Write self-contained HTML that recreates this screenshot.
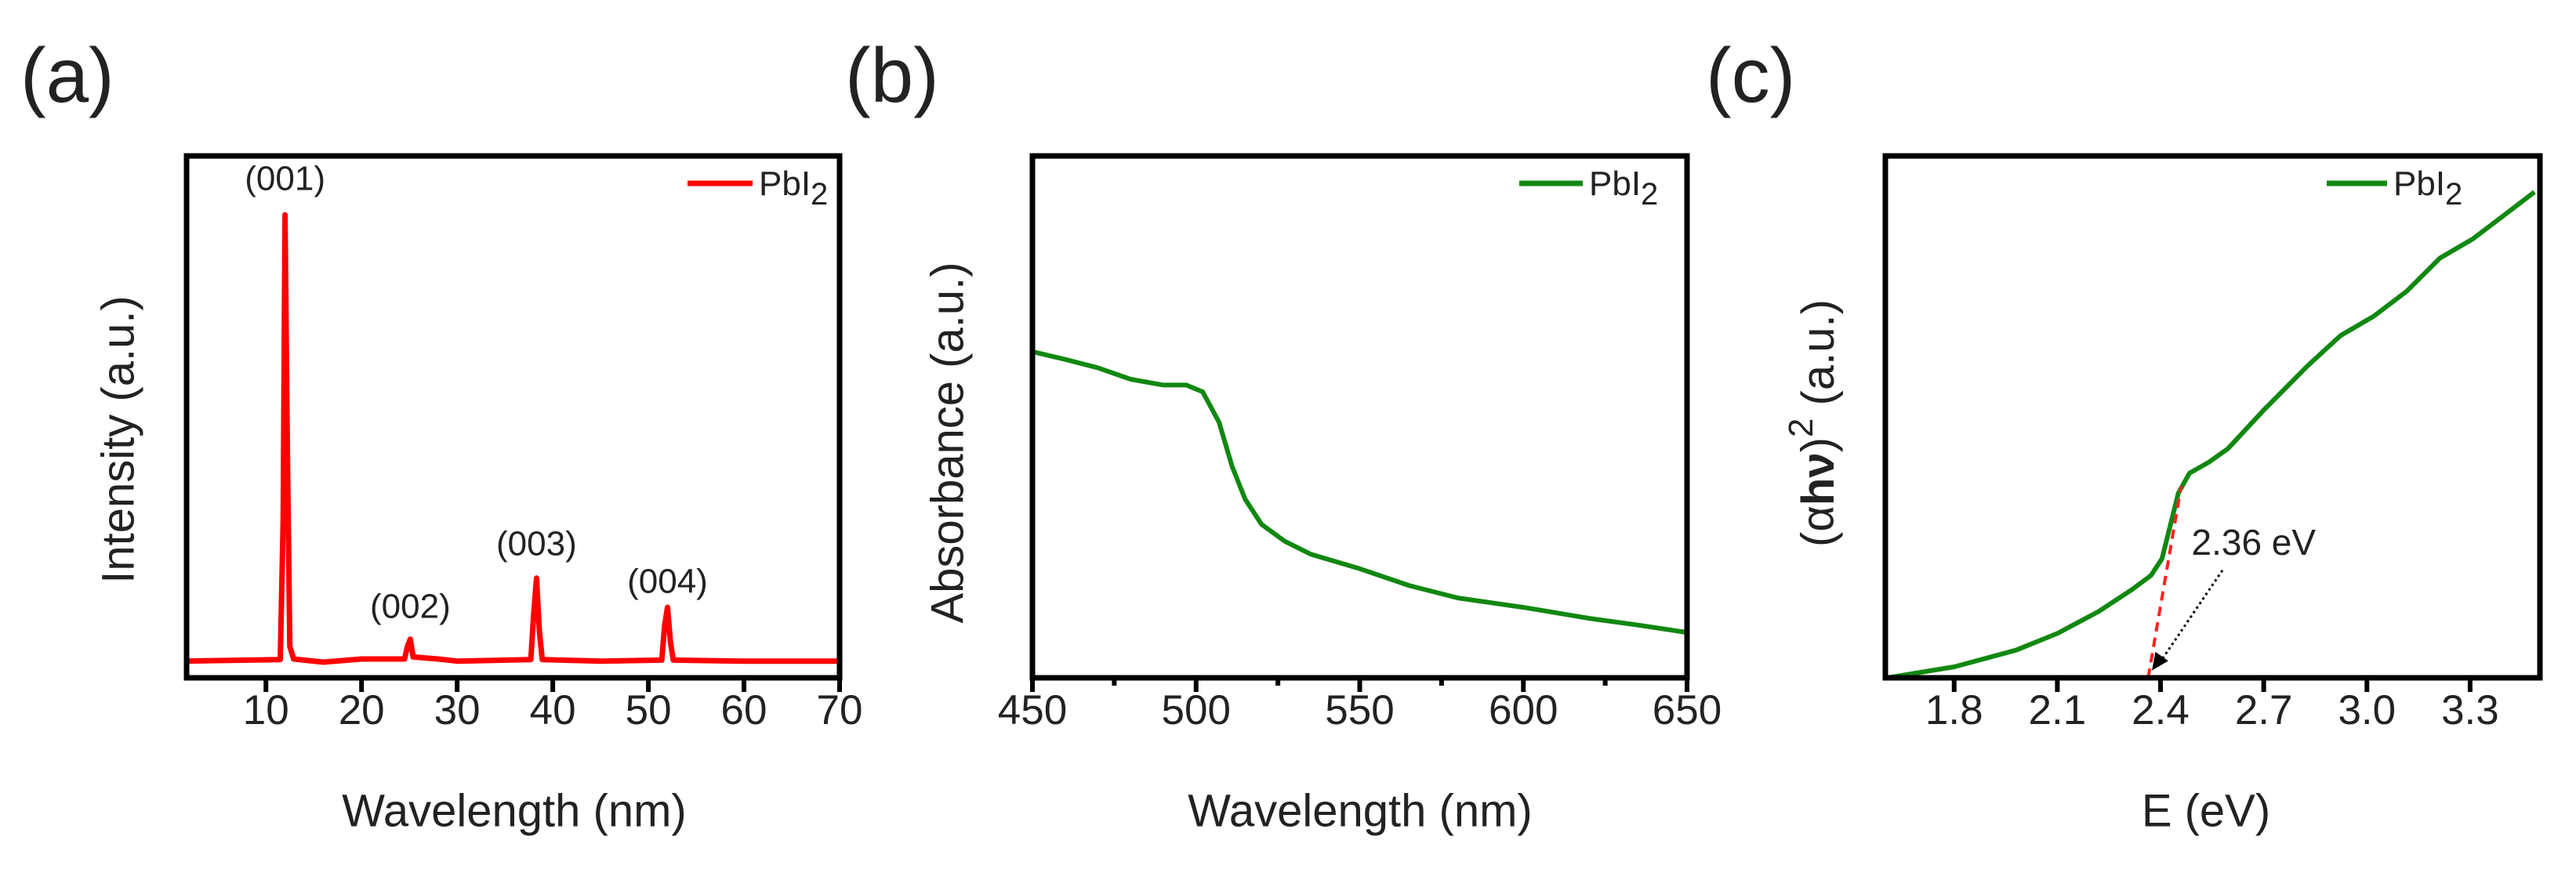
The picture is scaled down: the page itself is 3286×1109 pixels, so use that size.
<!DOCTYPE html>
<html><head><meta charset="utf-8"><style>
html,body{margin:0;padding:0;background:#fff;}
svg{display:block;font-family:"Liberation Sans",Arial,sans-serif;}
</style></head><body>
<svg id="fig" width="3286" height="1109" viewBox="0 0 3286 1109" xmlns="http://www.w3.org/2000/svg">
<rect width="3286" height="1109" fill="#fff"/>
<g id="pa"></g>
<g id="pb"></g>
<g id="pc"></g>
</svg>
<script>
// ---- Panel a data (XRD) ----
const xrdX = [1.7,11.5,11.8,12.0,12.2,12.5,12.9,16,20,24.5,24.8,25.1,25.4,28,30,37.7,38.0,38.3,38.6,38.9,45,51.4,51.7,52.0,52.3,52.6,60,70];
const xrdY = [0.032,0.035,0.3,0.887,0.5,0.06,0.036,0.03,0.036,0.036,0.06,0.074,0.04,0.036,0.032,0.035,0.12,0.191,0.09,0.035,0.032,0.034,0.1,0.135,0.07,0.034,0.032,0.032];
const xrdTicks = [10,20,30,40,50,60,70];
const peakLabels = ["(001)","(002)","(003)","(004)"];
const peakLabelX = [12.0,25.1,38.3,52.0];
const peakLabelY = [0.935,0.115,0.235,0.163];
// ---- Panel b data (absorbance) ----
const absX = [450,460,470,480,490,497,502,507,511,515,520,527,535,550,565,580,600,620,635,650];
const absY = [0.625,0.61,0.594,0.572,0.561,0.561,0.548,0.49,0.405,0.342,0.294,0.262,0.237,0.209,0.177,0.153,0.135,0.114,0.101,0.087];
const absTicks = [450,500,550,600,650];
const absMinor = [475,525,575,625];
// ---- Panel c data (Tauc) ----
const taucX = [1.605,1.8,1.98,2.1,2.22,2.317,2.372,2.404,2.428,2.452,2.484,2.54,2.596,2.7,2.828,2.924,3.02,3.116,3.212,3.308,3.404,3.487];
const taucY = [0,0.021,0.053,0.085,0.127,0.169,0.196,0.228,0.291,0.354,0.392,0.413,0.439,0.513,0.598,0.656,0.693,0.741,0.804,0.841,0.889,0.931];
const taucTicks = [1.8,2.1,2.4,2.7,3.0,3.3];
const fitX = [2.364,2.46];
const fitY = [0,0.367];
const bandGap = ["2.36 eV"];

const NS="http://www.w3.org/2000/svg";
function mk(parent,tag,attrs,text){const e=document.createElementNS(NS,tag);for(const k in attrs)e.setAttribute(k,attrs[k]);if(text!==undefined)e.textContent=text;parent.appendChild(e);return e;}
const TOP=199,BOT=865;
function axes(g,x0,x1,xmin,xmax){
  const sx=v=>x0+(v-xmin)/(xmax-xmin)*(x1-x0);
  const sy=v=>BOT-v*(BOT-TOP);
  return {sx,sy};
}
function frame(g,x0,x1){
  const r=mk(g,'rect',{x:x0,y:TOP,width:x1-x0,height:BOT-TOP,fill:'none',stroke:'#000','stroke-width':7});
  
  
}
function ticks(g,sx,vals,len,fmt,labels){
  vals.forEach(v=>{
    const t=mk(g,'line',{x1:sx(v),x2:sx(v),y1:BOT,y2:BOT+len,stroke:'#000','stroke-width':6});
    
    
    if(labels){
      const l=mk(g,'text',{x:sx(v),y:924,'font-size':53,'text-anchor':'middle',fill:'#222'},fmt(v));
      
      
    }
  });
}
function curve(g,sx,sy,xs,ys,color,w,name){
  const d=xs.map((x,i)=>(i?'L':'M')+sx(x).toFixed(1)+' '+sy(ys[i]).toFixed(1)).join(' ');
  const p=mk(g,'path',{d,fill:'none',stroke:color,'stroke-width':w,'stroke-linejoin':'round'});
  
  
}
function legend(g,lx0,lx1,color){
  const l=mk(g,'line',{x1:lx0,x2:lx1,y1:234,y2:234,stroke:color,'stroke-width':7});
  
  
  const t=mk(g,'text',{x:lx1+8,y:249,'font-size':44,fill:'#222'});
  
  
  t.innerHTML='PbI<tspan font-size="40" dy="12">2</tspan>';
}
function title(g,x,y,txt,name,rot){
  const t=mk(g,'text',{x,y,'font-size':58,'text-anchor':'middle','dominant-baseline':'central',fill:'#222'});
  if(rot)t.setAttribute('transform',`rotate(-90 ${x} ${y})`);
  t.innerHTML=txt;
  
  
}
function plabel(g,x,txt){
  const t=mk(g,'text',{x,y:130,'font-size':98,fill:'#222'},txt);
  
  
}

// Panel a
(function(){
  const g=document.getElementById('pa');
  const {sx,sy}=axes(g,238,1071,1.7,70);
  curve(g,sx,sy,xrdX,xrdY,'#ff0000',7,'xrd-curve');
  frame(g,238,1071);
  ticks(g,sx,xrdTicks,18,v=>String(v),true);
  peakLabels.forEach((s,i)=>{
    const t=mk(g,'text',{x:sx(peakLabelX[i]),y:sy(peakLabelY[i]),'font-size':44,'text-anchor':'middle',fill:'#222'},s);
    
    
  });
  legend(g,877,960,'#ff0000');
  title(g,656,1035,'Wavelength (nm)','x-axis-title');
  title(g,151,561,'Intensity (a.u.)','y-axis-title',true);
  plabel(g,26,'(a)');
})();

// Panel b
(function(){
  const g=document.getElementById('pb');
  const {sx,sy}=axes(g,1317,2152,450,650);
  curve(g,sx,sy,absX,absY,'#118811',6,'absorbance-curve');
  frame(g,1317,2152);
  ticks(g,sx,absTicks,18,v=>String(v),true);
  ticks(g,sx,absMinor,10,null,false);
  legend(g,1938,2019,'#118811');
  title(g,1735,1035,'Wavelength (nm)','x-axis-title');
  title(g,1209,565,'Absorbance (a.u.)','y-axis-title',true);
  plabel(g,1078,'(b)');
})();

// Panel c
(function(){
  const g=document.getElementById('pc');
  const {sx,sy}=axes(g,2405,3240,1.6,3.503);
  curve(g,sx,sy,taucX,taucY,'#118811',6,'tauc-curve');
  const f=mk(g,'line',{x1:sx(fitX[0]),y1:sy(fitY[0]),x2:sx(fitX[1]),y2:sy(fitY[1]),stroke:'#ff2222','stroke-width':4,'stroke-dasharray':'12 8'});
  
  
  const ax0=sx(2.58),ay0=sy(0.206),ax1=sx(2.375),ay1=sy(0.014);
  const a=mk(g,'line',{x1:ax0,y1:ay0,x2:ax1+10,y2:ay1-10,stroke:'#000','stroke-width':3,'stroke-dasharray':'3 4'});
  
  
  const ang=Math.atan2(ay1-ay0,ax1-ax0);
  const hx=ax1,hy=ay1,L=22,W=10;
  const bx=hx-L*Math.cos(ang),by=hy-L*Math.sin(ang);
  const ah=mk(g,'polygon',{points:`${hx},${hy} ${bx+W*Math.sin(ang)},${by-W*Math.cos(ang)} ${bx-W*Math.sin(ang)},${by+W*Math.cos(ang)}`,fill:'#000'});
  
  
  const bt=mk(g,'text',{x:sx(2.49),y:sy(0.236),'font-size':46,fill:'#222'},bandGap[0]);
  
  
  frame(g,2405,3240);
  ticks(g,sx,taucTicks,18,v=>v.toFixed(1),true);
  legend(g,2968,3045,'#118811');
  title(g,2814,1035,'E (eV)','x-axis-title');
  title(g,2319,540,'(α<tspan font-weight="bold">hν</tspan>)<tspan dy="-22" font-size="44">2</tspan><tspan dy="22"> (a.u.)</tspan>','y-axis-title',true);
  plabel(g,2176,'(c)');
})();
</script>
</body></html>
